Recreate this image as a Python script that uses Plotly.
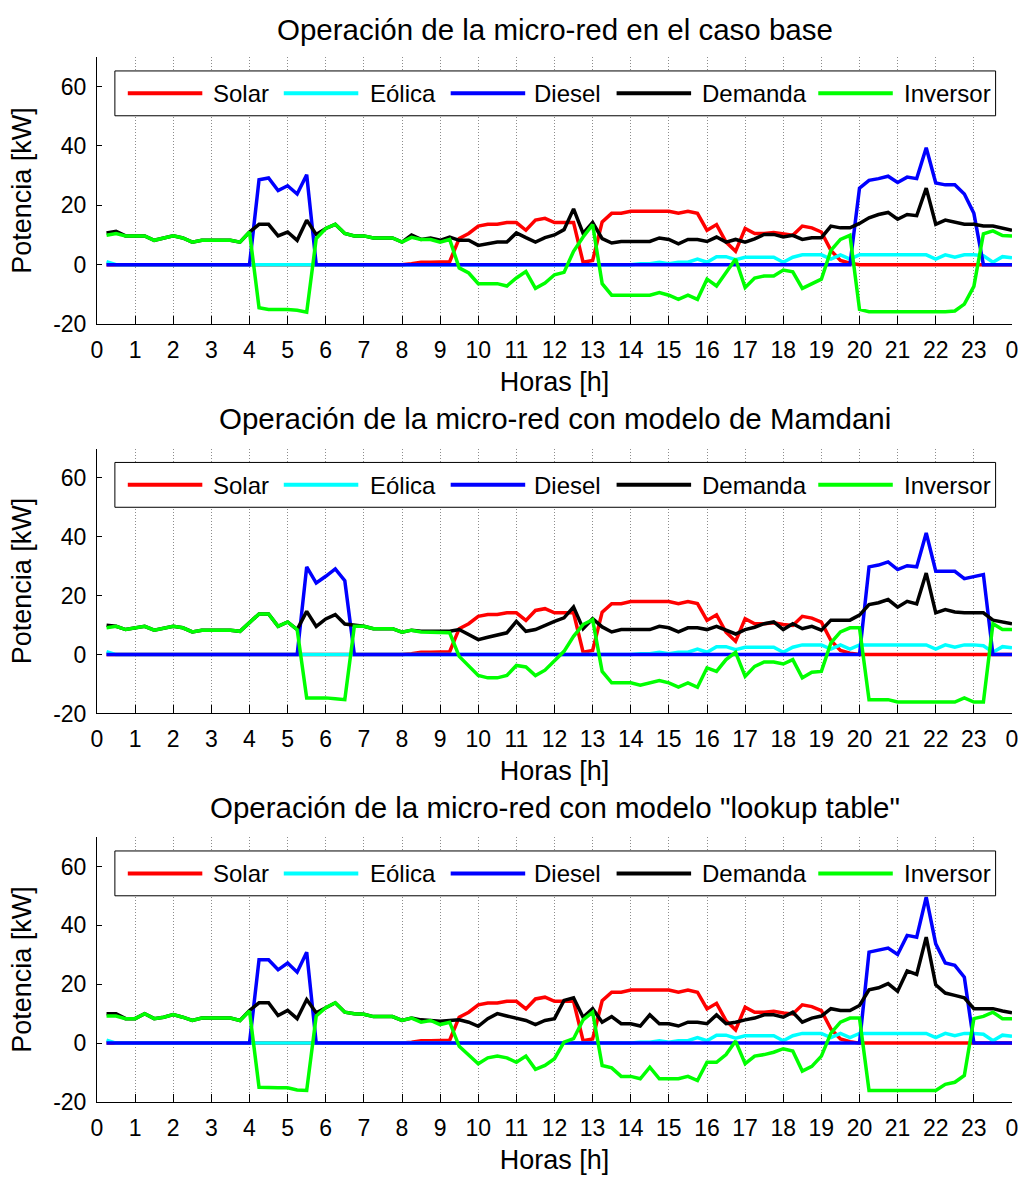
import plotly.graph_objects as go

# Time axis: 15-minute steps over one day (hours)
hora = [0.25 * k for k in range(1, 97)]

# Generation common to the three cases [kW]
solar = [
    0, 0, 0, 0,  0, 0, 0, 0,  0, 0, 0, 0,  0, 0, 0, 0,
    0, 0, 0, 0,  0, 0, 0, 0,  0, 0, 0, 0,  0, 0, 0, 0,
    0.3, 0.8, 0.8, 1.0,  1.0, 8.8, 10.5, 13.0,  13.6, 13.6, 14.2, 14.2,
    11.6, 15.0, 15.6, 14.2,  14.2, 14.2, 0.8, 1.4,  14.4, 17.3, 17.3, 18.0,
    18.0, 18.0, 18.0, 18.0,  17.3, 18.0, 17.3, 11.6,  13.5, 7.6, 4.5, 12.2,
    10.5, 10.5, 10.8, 10.2,  9.9, 13.0, 12.4, 11.0,  4.8, 1.4, 0.5, 0,
    0, 0, 0, 0,  0, 0, 0, 0,  0, 0, 0, 0,  0, 0, 0, 0,
]
eolica = [
    1.0, 0, 0, 0,  0, 0, 0, 0,  0, 0, 0, 0,  0, 0, 0, 0,
    0, 0, 0, 0,  0, 0, 0, 0,  0, 0, 0, 0,  0, 0, 0, 0,
    0, 0, 0, 0,  0, 0, 0, 0,  0, 0, 0, 0,  0, 0, 0, 0,
    0, 0, 0, 0,  0, 0, 0, 0,  0.3, 0.3, 0.8, 0.3,  0.8, 0.8, 1.9, 0.8,
    2.7, 2.7, 1.7, 2.5,  2.5, 2.5, 2.5, 0.8,  2.5, 3.3, 3.3, 3.3,
    1.9, 3.3, 1.9, 3.3,  3.3, 3.3, 3.3, 3.3,  3.3, 3.3, 3.3, 1.9,
    3.3, 2.5, 3.3, 3.3,  3.0, 0.8, 2.7, 2.3,
]

# Caso base
diesel_base = [
    0, 0, 0, 0,  0, 0, 0, 0,  0, 0, 0, 0,  0, 0, 0, 0,
    28.6, 29.2, 25.0, 26.6,  23.8, 30.3, 0, 0,
    0, 0, 0, 0,  0, 0, 0, 0,  0, 0, 0, 0,  0, 0, 0, 0,
    0, 0, 0, 0,  0, 0, 0, 0,  0, 0, 0, 0,  0, 0, 0, 0,
    0, 0, 0, 0,  0, 0, 0, 0,  0, 0, 0, 0,  0, 0, 0, 0,
    0, 0, 0, 0,  0, 0, 0, 25.8,
    28.4, 29.0, 29.8, 27.7,  29.5, 29.0, 39.4, 27.5,  26.9, 26.9, 23.8, 17.3,
    0, 0, 0, 0,
]
demanda_base = [
    10.7, 11.2, 9.7, 9.7,  9.7, 8.2, 9.0, 9.7,  9.0, 7.6, 8.2, 8.2,  8.2, 8.2, 7.6, 11.0,
    13.6, 13.6, 9.7, 11.0,  8.2, 15.0, 10.2, 12.2,  13.6, 10.5, 9.7, 9.7,  9.0, 9.0, 9.0, 7.6,
    10.0, 8.5, 9.0, 8.2,  9.3, 8.2, 8.2, 6.5,  7.0, 7.6, 7.6, 10.7,  9.1, 7.6, 9.1, 10.0,
    11.8, 18.8, 10.5, 14.2,  8.8, 7.3, 7.8, 7.8,  7.8, 7.8, 9.0, 8.5,  7.0, 8.5, 8.5, 7.8,
    9.3, 7.6, 8.5, 7.6,  8.7, 10.2, 10.2, 9.3,  9.9, 8.5, 9.1, 9.1,  13.0, 12.4, 12.4, 13.9,
    15.8, 16.9, 17.6, 15.3,  16.9, 16.5, 25.8, 13.6,  15.0, 14.2, 13.6, 13.6,  13.0, 13.0, 12.4, 11.6,
]
inversor_base = [
    9.9, 10.5, 9.7, 9.7,  9.7, 8.2, 9.0, 9.7,  9.0, 7.6, 8.2, 8.2,  8.2, 8.2, 7.6, 11.0,
    -14.5, -15.1, -15.1, -15.1,  -15.4, -16.0, 8.8, 12.2,  13.6, 10.5, 9.7, 9.7,  9.0, 9.0, 9.0, 7.6,
    9.2, 8.5, 8.5, 7.6,  8.5, -1.1, -2.8, -6.4,  -6.4, -6.4, -7.2, -4.5,  -2.3, -8.0, -6.2, -3.4,
    -2.6, 4.5, 9.3, 13.5,  -6.4, -10.3, -10.3, -10.3,  -10.3, -10.3, -9.4, -10.3,  -11.7, -10.3, -11.7, -4.9,
    -7.2, -2.6, 1.9, -7.7,  -4.5, -3.8, -3.8, -1.8,  -2.4, -8.0, -6.4, -4.9,  4.8, 8.5, 9.9, -15.1,
    -15.9, -15.9, -15.9, -15.9,  -15.9, -15.9, -15.9, -15.9,  -15.9, -15.6, -13.3, -7.3,  10.4, 11.4, 9.8, 9.7,
]

# Modelo de Mamdani
diesel_mamdani = [
    0, 0, 0, 0,  0, 0, 0, 0,  0, 0, 0, 0,  0, 0, 0, 0,
    0, 0, 0, 0,  0, 29.8, 24.3, 26.6,  29.1, 25.1, 0, 0,  0, 0, 0, 0,
    0, 0, 0, 0,  0, 0, 0, 0,  0, 0, 0, 0,  0, 0, 0, 0,
    0, 0, 0, 0,  0, 0, 0, 0,  0, 0, 0, 0,  0, 0, 0, 0,
    0, 0, 0, 0,  0, 0, 0, 0,  0, 0, 0, 0,  0, 0, 0, 0,
    29.8, 30.4, 31.5, 28.9,  30.2, 29.8, 41.3, 28.3,  28.3, 28.3, 25.8, 26.4,  27.2, 0, 0, 0,
]
demanda_mamdani = [
    10.0, 9.6, 8.5, 9.1,  9.6, 8.3, 9.1, 9.6,  9.1, 7.7, 8.3, 8.3,  8.3, 8.3, 7.9, 10.8,
    13.8, 13.8, 9.6, 11.1,  8.5, 14.7, 9.6, 12.1,  13.6, 10.4, 10.0, 9.6,  8.8, 8.8, 8.8, 7.6,
    8.3, 7.9, 7.9, 7.9,  7.9, 8.5, 6.8, 5.1,  5.9, 6.6, 7.4, 11.3,  7.9, 8.5, 10.0, 11.3,
    12.5, 16.2, 8.8, 12.2,  9.4, 7.7, 8.5, 8.5,  8.5, 8.5, 9.6, 9.1,  7.7, 9.1, 9.1, 8.5,
    9.6, 8.2, 7.0, 8.5,  9.3, 10.5, 11.1, 8.5,  10.5, 8.8, 9.6, 8.3,  11.7, 11.7, 11.7, 13.4,
    17.0, 17.6, 18.7, 16.1,  18.1, 17.2, 27.7, 14.2,  15.3, 14.5, 14.2, 14.2,  14.2, 11.7, 11.1, 10.5,
]
inversor_mamdani = [
    9.1, 9.6, 8.5, 9.1,  9.6, 8.3, 9.1, 9.6,  9.1, 7.7, 8.3, 8.3,  8.3, 8.3, 7.9, 10.8,
    13.8, 13.8, 9.6, 11.1,  8.5, -14.7, -14.7, -14.7,  -15.0, -15.3, 9.6, 9.6,  8.8, 8.8, 8.8, 7.6,
    8.3, 7.7, 7.6, 7.4,  7.4, -0.6, -3.7, -7.1,  -7.9, -7.9, -7.1, -3.7,  -4.2, -7.1, -5.3, -2.3,
    1.1, 6.2, 10.2, 11.9,  -5.7, -9.6, -9.6, -9.6,  -10.4, -9.6, -8.8, -9.6,  -11.0, -9.6, -11.1, -4.5,
    -5.7, -1.7, 0.8, -7.4,  -4.0, -2.5, -2.5, -3.2,  -1.7, -7.9, -6.0, -5.7,  4.0, 7.7, 9.1, 9.1,
    -15.3, -15.3, -15.3, -16.1,  -16.1, -16.1, -16.1, -16.1,  -16.1, -16.1, -14.7, -16.1,  -16.1, 10.5, 8.5, 8.5,
]

# Modelo "lookup table"
diesel_lookup = [
    0, 0, 0, 0,  0, 0, 0, 0,  0, 0, 0, 0,  0, 0, 0, 0,
    28.3, 28.3, 24.9, 27.2,  24.1, 30.9, 0, 0,
    0, 0, 0, 0,  0, 0, 0, 0,  0, 0, 0, 0,  0, 0, 0, 0,
    0, 0, 0, 0,  0, 0, 0, 0,  0, 0, 0, 0,  0, 0, 0, 0,
    0, 0, 0, 0,  0, 0, 0, 0,  0, 0, 0, 0,  0, 0, 0, 0,
    0, 0, 0, 0,  0, 0, 0, 0,
    30.9, 31.5, 32.3, 30.1,  36.6, 36.0, 49.6, 33.7,  27.2, 26.4, 22.4, 0,  0, 0, 0, 0,
]
demanda_lookup = [
    10.0, 10.0, 8.3, 8.3,  10.0, 8.3, 8.8, 9.7,  8.8, 7.7, 8.5, 8.5,  8.5, 8.5, 7.7, 11.1,
    13.7, 13.7, 9.4, 11.1,  8.3, 14.8, 10.3, 12.0,  13.7, 10.5, 10.0, 9.8,  9.0, 9.0, 9.0, 7.7,
    8.5, 7.9, 7.7, 7.4,  7.7, 7.9, 7.1, 5.7,  8.3, 10.0, 9.2, 8.5,  7.7, 6.3, 7.7, 8.3,
    14.5, 15.4, 8.8, 11.7,  7.1, 9.0, 6.6, 6.6,  5.8, 9.6, 6.6, 6.6,  5.8, 7.1, 7.1, 6.6,
    9.6, 6.6, 7.1, 7.9,  8.5, 9.6, 9.6, 8.8,  10.5, 7.1, 8.5, 9.2,  11.7, 11.1, 11.1, 12.8,
    18.1, 18.8, 20.2, 17.6,  24.5, 23.3, 36.0, 19.8,  17.0, 16.2, 15.4, 11.7,  11.7, 11.7, 10.9, 10.3,
]
inversor_lookup = [
    9.2, 9.2, 8.3, 8.3,  10.0, 8.3, 8.8, 9.7,  8.8, 7.7, 8.5, 8.5,  8.5, 8.5, 7.7, 10.9,
    -15.0, -15.2, -15.2, -15.2,  -15.9, -16.1, 9.2, 12.0,  13.7, 10.5, 10.0, 9.8,  9.0, 9.0, 9.0, 7.7,
    8.5, 7.1, 7.7, 6.3,  7.1, -1.1, -3.9, -7.0,  -5.0, -4.4, -5.0, -6.5,  -4.4, -8.9, -7.6, -5.3,
    0.3, 1.5, 7.9, 10.5,  -7.6, -8.4, -11.3, -11.3,  -12.1, -8.2, -12.1, -12.1,  -12.1, -11.3, -12.7, -6.5,
    -6.5, -3.9, 0.7, -7.0,  -4.4, -3.9, -3.1, -1.9,  -2.7, -9.5, -7.9, -4.4,  3.4, 7.1, 8.5, 8.5,
    -16.1, -16.1, -16.1, -16.1,  -16.1, -16.1, -16.1, -16.1,  -14.0, -13.3, -11.0, 8.3,  9.1, 10.5, 8.3, 8.3,
]

titulos = [
    "Operación de la micro-red en el caso base",
    "Operación de la micro-red con modelo de Mamdani",
    'Operación de la micro-red con modelo "lookup table"',
]
nombres = ["Solar", "Eólica", "Diesel", "Demanda", "Inversor"]
colores = ["#ff0000", "#00ffff", "#0000ff", "#000000", "#00ff00"]
casos = [
    [solar, eolica, diesel_base, demanda_base, inversor_base],
    [solar, eolica, diesel_mamdani, demanda_mamdani, inversor_mamdani],
    [solar, eolica, diesel_lookup, demanda_lookup, inversor_lookup],
]
horas_ticks = list(range(25))
horas_text = [str(h % 24) for h in horas_ticks]
pot_ticks = [-20, 0, 20, 40, 60]
pot_text = ["-20", "0", "20", "40", "60"]

# Page geometry (px)
W, H = 1029, 1180
ML, MR, MT, MB = 97, 11, 57, 74
paneles = [(57, 325), (450, 716), (840, 1106)]  # top, bottom of each plot area
PH = H - MT - MB
PW = W - ML - MR

FONT = "Liberation Sans, Arial, Helvetica, sans-serif"

fig = go.Figure()

for p, series in enumerate(casos):
    sfx = "" if p == 0 else str(p + 1)
    for nombre, color, y in zip(nombres, colores, series):
        fig.add_trace(go.Scatter(
            x=hora, y=y, name=nombre, mode="lines",
            line=dict(color=color, width=3.5),
            xaxis="x" + sfx, yaxis="y" + sfx, showlegend=False,
        ))

    top, bot = paneles[p]
    dom = [(MT + PH - bot) / PH, (MT + PH - top) / PH]
    fig.layout["xaxis" + sfx] = dict(
        domain=[0, 1], anchor="y" + sfx, range=[0, 24],
        tickmode="array", tickvals=horas_ticks, ticktext=horas_text,
        ticks="inside", ticklen=8, tickwidth=1, tickcolor="black",
        showline=True, linecolor="black", linewidth=1, mirror=False,
        showgrid=True, gridcolor="#8c8c8c", griddash="1px,2px", gridwidth=1,
        zeroline=False, tickfont=dict(size=23, color="black", family=FONT),
        ticklabelstandoff=5,
        title=dict(text="Horas [h]", font=dict(size=27, color="black", family=FONT), standoff=10),
    )
    fig.layout["yaxis" + sfx] = dict(
        domain=dom, anchor="x" + sfx, range=[-20, 70],
        tickmode="array", tickvals=pot_ticks, ticktext=pot_text,
        ticks="inside", ticklen=5, tickwidth=1, tickcolor="black",
        showline=True, linecolor="black", linewidth=1, mirror=False,
        showgrid=False, zeroline=False,
        tickfont=dict(size=23, color="black", family=FONT),
        ticklabelstandoff=5,
        title=dict(text="Potencia [kW]", font=dict(size=27, color="black", family=FONT), standoff=13),
    )

    xref = "x" + sfx + " domain"
    yref = "y" + sfx + " domain"
    hgt = bot - top

    def fx(px):
        return (px - ML) / PW

    def fy(dpx):
        return 1 - dpx / hgt

    # Title of the panel
    fig.add_annotation(
        text=titulos[p], xref=xref, yref=yref, x=0.5, y=1,
        xanchor="center", yanchor="middle", yshift=28 if p == 0 else 30,
        showarrow=False, font=dict(size=29.5, color="black", family=FONT),
    )

    # Legend box with line samples
    fig.add_shape(type="rect", xref=xref, yref=yref,
                  x0=fx(115), x1=fx(1001.5), y0=fy(59), y1=fy(14),
                  line=dict(color="black", width=1), fillcolor="white", layer="above")
    muestras = [(128, 203, 213), (285, 360, 371), (453, 528, 536), (620, 695, 705), (823, 898, 908)]
    for (a, b, t), nombre, color in zip(muestras, nombres, colores):
        fig.add_shape(type="line", xref=xref, yref=yref,
                      x0=fx(a), x1=fx(b), y0=fy(36.5), y1=fy(36.5),
                      line=dict(color=color, width=4), layer="above")
        fig.add_annotation(
            text=nombre, xref=xref, yref=yref, x=fx(t), y=fy(37),
            xanchor="left", yanchor="middle", showarrow=False, borderpad=0,
            font=dict(size=24, color="black", family=FONT),
        )

fig.update_layout(
    width=W, height=H,
    margin=dict(l=ML, r=MR, t=MT, b=MB),
    paper_bgcolor="white", plot_bgcolor="white",
    font=dict(family=FONT, color="black"),
    showlegend=False,
)

fig.write_html("out.html")
